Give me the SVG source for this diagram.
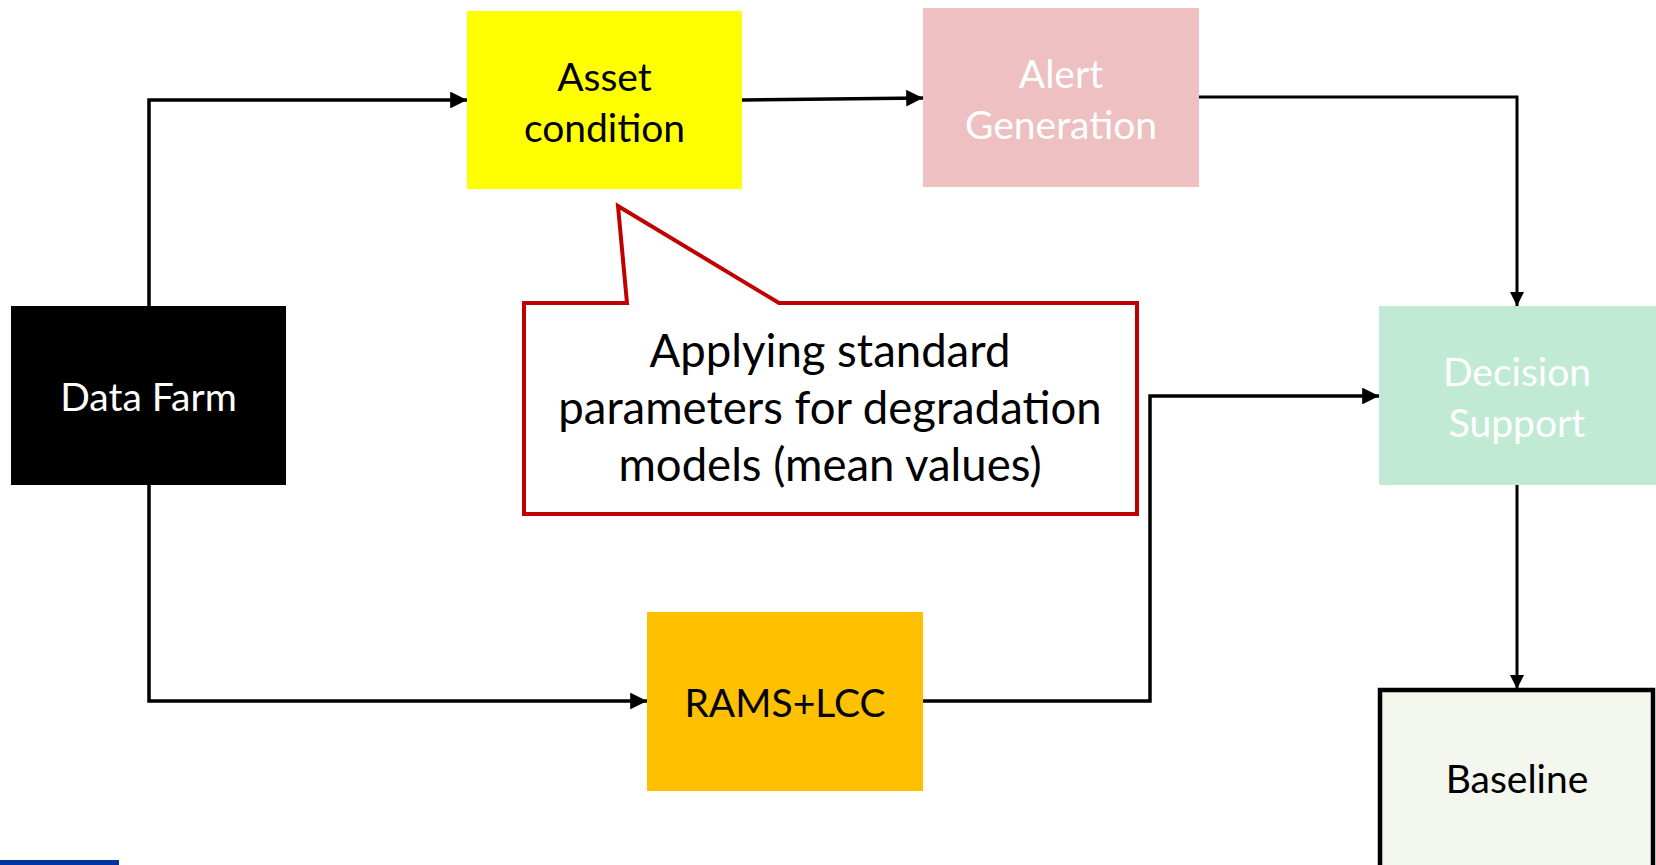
<svg xmlns="http://www.w3.org/2000/svg" width="1656" height="865" viewBox="0 0 1656 865">
<style>
.lbl{font-family:Lato,"Liberation Sans",sans-serif;font-size:39px;text-anchor:middle}
.call{font-family:Lato,"Liberation Sans",sans-serif;font-size:45.5px;text-anchor:middle;fill:#000}
.conn{fill:none;stroke:#000;stroke-width:3.5}
</style>
<defs>
<marker id="ah" viewBox="0 0 10 10" refX="10" refY="5" markerWidth="4.8" markerHeight="4.8" orient="auto" markerUnits="strokeWidth">
<path d="M0,0 L10,5 L0,10 Z" fill="#000"/>
</marker>
</defs>
<rect width="1656" height="865" fill="#fff"/>
<g id="connectors">
<path class="conn" d="M149,306 V100 H467" marker-end="url(#ah)"/>
<path class="conn" d="M742,100 L923,98" marker-end="url(#ah)"/>
<path class="conn" d="M1199,97 H1517 V306" marker-end="url(#ah)" style="stroke-width:3"/>
<path class="conn" d="M149,485 V701 H647" marker-end="url(#ah)"/>
<path class="conn" d="M923,701 H1150 V396 H1379" marker-end="url(#ah)"/>
<path class="conn" d="M1517,485 V689" marker-end="url(#ah)" style="stroke-width:3"/>
</g>
<g id="asset">
<rect x="467" y="11" width="275" height="178" fill="#FFFF00"/>
<text class="lbl" x="604.5" y="91" fill="#000">Asset</text>
<text class="lbl" x="604.5" y="142" fill="#000">condition</text>
</g>
<g id="alert">
<rect x="923" y="8" width="276" height="179" fill="#EEC0C1"/>
<text class="lbl" x="1061" y="88" fill="#fff">Alert</text>
<text class="lbl" x="1061" y="139" fill="#fff">Generation</text>
</g>
<g id="datafarm">
<rect x="11" y="306" width="275" height="179" fill="#000"/>
<text class="lbl" x="148.5" y="411" fill="#fff">Data Farm</text>
</g>
<g id="decision">
<rect x="1379" y="306" width="277" height="179" fill="#C0EAD4"/>
<text class="lbl" x="1517" y="386" fill="#fff">Decision</text>
<text class="lbl" x="1517" y="437" fill="#fff">Support</text>
</g>
<g id="rams">
<rect x="647" y="612" width="276" height="179" fill="#FFC000"/>
<text class="lbl" x="785" y="717" fill="#000">RAMS+LCC</text>
</g>
<g id="baseline">
<rect x="1380" y="690" width="273" height="185" fill="#F3F7EE" stroke="#000" stroke-width="4.5"/>
<text class="lbl" x="1517" y="793" fill="#000">Baseline</text>
</g>
<g id="callout">
<path d="M524,303 H627 L618,206 L779,303 H1137 V514 H524 Z" fill="#fff" stroke="#C00000" stroke-width="4" stroke-linejoin="miter"/>
<text class="call" x="830" y="367">Applying standard</text>
<text class="call" x="830" y="424">parameters for degradation</text>
<text class="call" x="830" y="481">models (mean values)</text>
</g>
<rect x="0" y="860" width="119" height="5" fill="#0033A0"/>
</svg>
